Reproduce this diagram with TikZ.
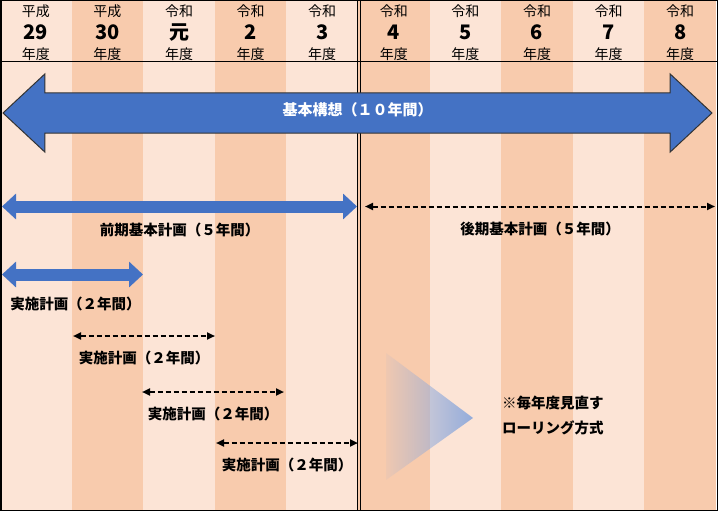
\documentclass[tikz,border=0pt]{standalone}
\usepackage{fontspec}
\setmainfont{Noto Sans CJK JP}
\usepackage{xcolor}
\usepackage{tikz}
\usetikzlibrary{shapes.arrows, arrows.meta, positioning, fadings}
\definecolor{colL}{HTML}{FCE4D6}
\definecolor{colD}{HTML}{F8CBAD}
\definecolor{planblue}{HTML}{4472C4}
\definecolor{rollblue}{HTML}{8EA9DB}
\tikzfading[name=rollfade, left color=transparent!92, right color=transparent!5]

\begin{document}
\begin{tikzpicture}[x=1pt, y=-1pt,
  hdr/.style={inner sep=0pt, anchor=base, font=\fontsize{14}{14}\selectfont},
  yr/.style={inner sep=0pt, anchor=base, font=\fontsize{20}{20}\selectfont\bfseries},
  lbl/.style={inner sep=0pt, outer sep=0pt, font=\fontsize{14.5}{16}\selectfont\bfseries},
  bigarrow/.style={double arrow, double arrow head extend=19pt, double arrow tip angle=86, minimum height=709pt, inner xsep=0pt, inner ysep=12.5pt, text height=10pt, text depth=4pt, draw=black!80, line width=1pt, fill=planblue, text=white, font=\fontsize{15}{15}\selectfont\bfseries},
  plan/.style={draw=planblue, line width=12pt, {Triangle[length=14pt,width=25pt]}-{Triangle[length=14pt,width=25pt]}},
  roll/.style={draw=black, line width=2pt, dash pattern=on 5pt off 3pt, {Triangle[length=8pt,width=7pt]}-{Triangle[length=8pt,width=7pt]}}]
\useasboundingbox (0,0) rectangle (718,511);
% year columns
\foreach \era/\num/\col [count=\i] in {平成/29/colL, 平成/30/colD, 令和/元/colL, 令和/2/colD, 令和/3/colL, 令和/4/colD, 令和/5/colL, 令和/6/colD, 令和/7/colL, 令和/8/colD} {
  \fill[\col] ({71.6*(\i-1)},0) rectangle ({71.6*\i},511);
  \node[hdr] (e\i) at ({71.6*(\i-0.5)},17) {\era};
  \node[yr] (y\i) at ({71.6*(\i-0.5)},40) {\num};
  \node[hdr] (n\i) at ({71.6*(\i-0.5)},59.5) {年度};
}
\draw[line width=1pt] (0,61.5) -- (718,61.5);
\draw[line width=0.9pt] (357,0) -- (357,511) (360,0) -- (360,511);
% rolling mark
\fill[rollblue, path fading=rollfade] (386,353) -- (473,418) -- (386,480) -- cycle;
\node[lbl, align=left, anchor=north west, font=\fontsize{14.5}{25}\selectfont\bfseries] (note) at (502,396) {※毎年度見直す\\ローリング方式};
% plans
\node[bigarrow] (vision) at (357.5,113) {基本構想（１０年間）};
\coordinate (a1) at (2,206.5); \coordinate (a2) at (357,206.5);
\coordinate (b1) at (365,206.5); \coordinate (b2) at (715,206.5);
\coordinate (c1) at (2,274.5); \coordinate (c2) at (143,274.5);
\coordinate (d1) at (73,336); \coordinate (d2) at (215,336);
\coordinate (f1) at (142,392); \coordinate (f2) at (284,392);
\coordinate (g1) at (216,443); \coordinate (g2) at (358,443);
\draw[plan] (a1) -- node[lbl, below=16pt] (la) {前期基本計画（５年間）} (a2);
\draw[roll] (b1) -- node[lbl, below=15pt] (lb) {後期基本計画（５年間）} (b2);
\draw[plan] (c1) -- node[lbl, below=22pt, xshift=3pt] (lc) {実施計画（２年間）} (c2);
\draw[roll] (d1) -- node[lbl, below=15pt] (ld) {実施計画（２年間）} (d2);
\draw[roll] (f1) -- node[lbl, below=15pt] (lf) {実施計画（２年間）} (f2);
\draw[roll] (g1) -- node[lbl, below=15pt] (lg) {実施計画（２年間）} (g2);
\draw[line width=1.5pt] (0.75,0.75) rectangle (717.25,510.25);
\end{tikzpicture}
\end{document}
